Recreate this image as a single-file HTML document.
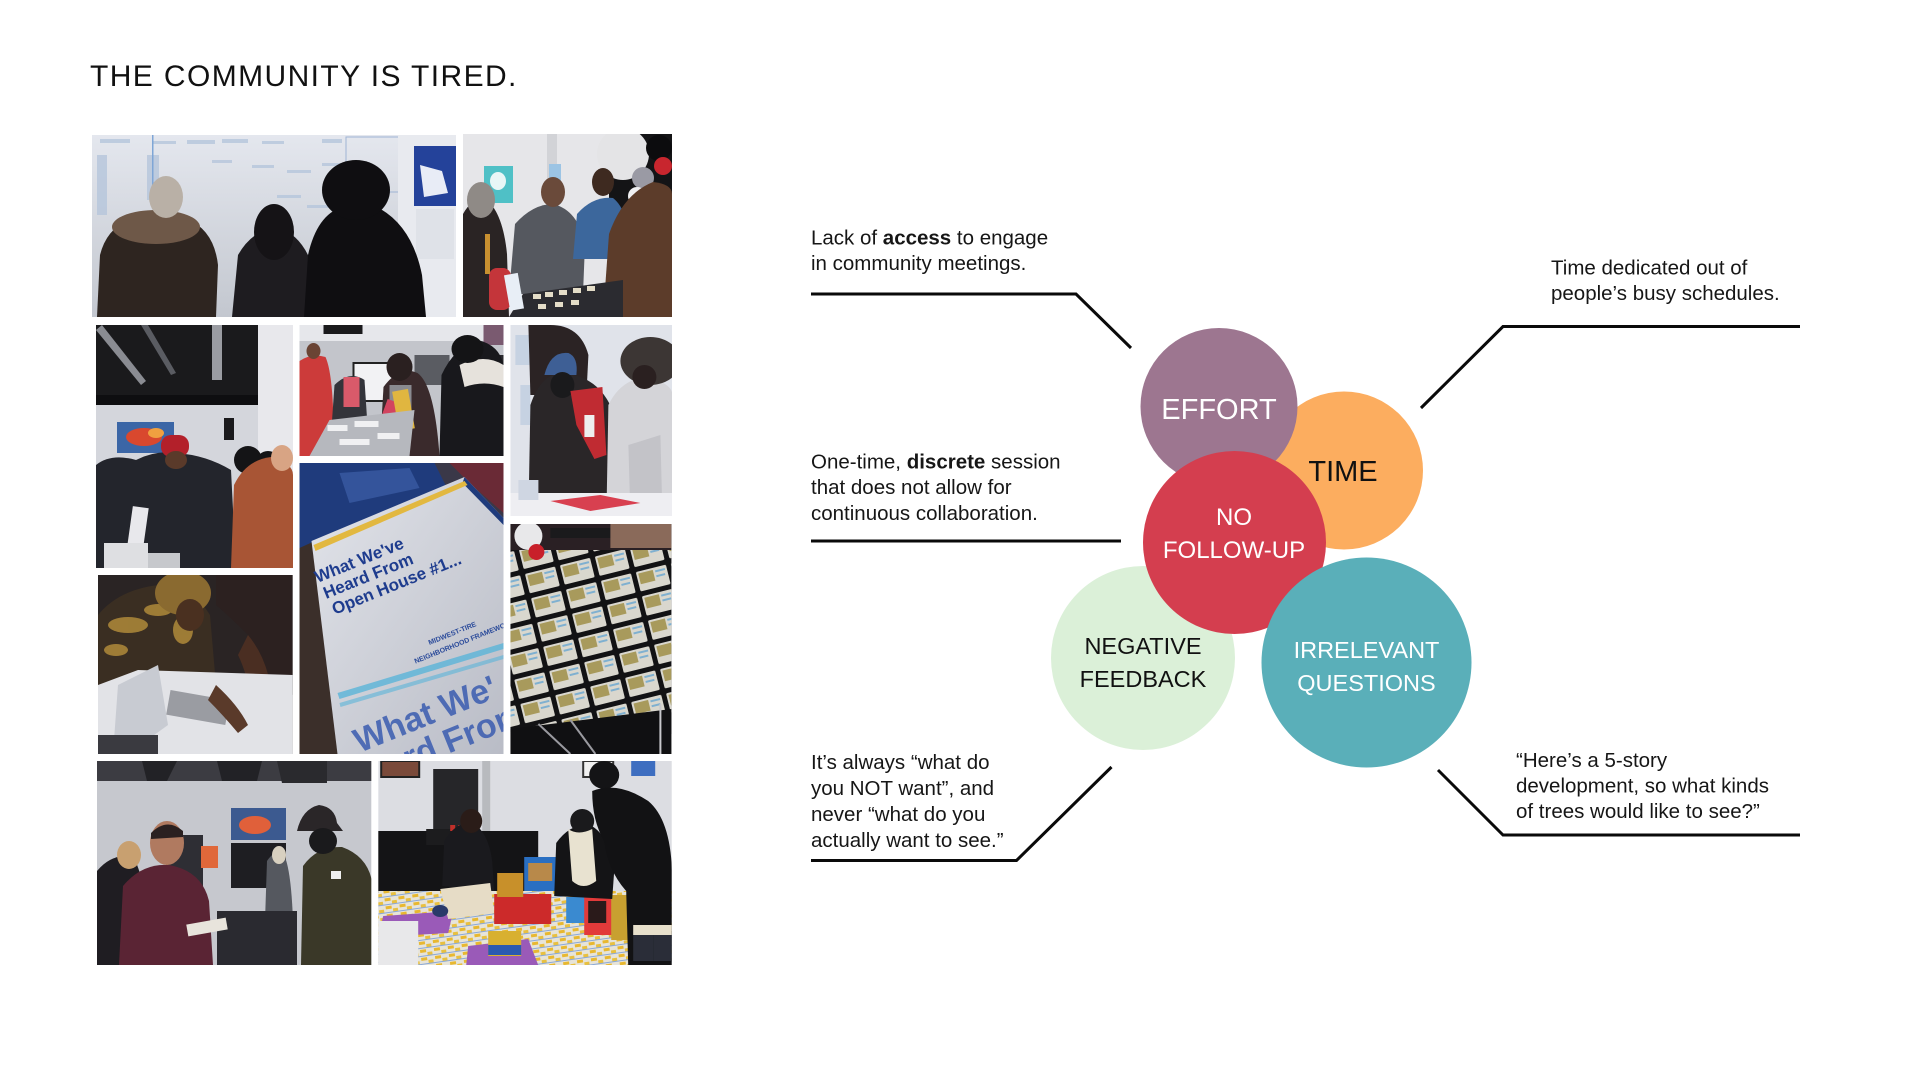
<!DOCTYPE html>
<html>
<head>
<meta charset="utf-8">
<style>
  html,body{margin:0;padding:0;background:#fff;}
  svg{display:block;}
  text{font-family:"Liberation Sans", sans-serif;}
</style>
</head>
<body>
<svg width="1920" height="1080" viewBox="0 0 1920 1080" xmlns="http://www.w3.org/2000/svg">
  <defs>
    <linearGradient id="wall1" x1="0" y1="0" x2="0" y2="1">
      <stop offset="0" stop-color="#e4e7ee"/><stop offset="1" stop-color="#c3c7cf"/>
    </linearGradient>
    <linearGradient id="book" x1="0" y1="0" x2="1" y2="1">
      <stop offset="0" stop-color="#e2e4ea"/><stop offset="1" stop-color="#b9bcc6"/>
    </linearGradient>
    <pattern id="cards" width="36" height="25" patternUnits="userSpaceOnUse" patternTransform="rotate(-14)">
      <rect x="0" y="0" width="36" height="25" fill="#121214"/>
      <rect x="2" y="2" width="31" height="20" rx="1.5" fill="#d9d7ce"/>
      <rect x="4" y="4" width="15" height="11" fill="#a89a5c"/>
      <rect x="21" y="5" width="10" height="2" fill="#7fb0d0"/>
      <rect x="21" y="10" width="9" height="2" fill="#7fb0d0"/>
    </pattern>
    <pattern id="floormap" width="14" height="8" patternUnits="userSpaceOnUse" patternTransform="rotate(-8)">
      <rect width="14" height="8" fill="#e7e4d8"/>
      <rect x="1" y="1" width="6" height="3" fill="#e8b830"/>
      <rect x="8" y="4" width="5" height="3" fill="#e8c040"/>
      <rect x="0" y="7" width="14" height="1" fill="#8aa8d8"/>
    </pattern>
  </defs>

  <!-- Title -->
  <text x="90" y="86" font-size="30" letter-spacing="1.4" fill="#111">THE COMMUNITY IS TIRED.</text>

  <!-- ============ PHOTOS ============ -->
  <!-- P1 -->
  <svg x="92" y="135" width="364" height="182">
    <rect width="364" height="182" fill="url(#wall1)"/>
    <g fill="#b6c6dc" opacity="0.8">
      <rect x="8" y="4" width="30" height="4"/><rect x="60" y="6" width="24" height="3"/><rect x="95" y="5" width="28" height="4"/>
      <rect x="130" y="4" width="26" height="4"/><rect x="170" y="6" width="22" height="3"/><rect x="230" y="4" width="20" height="4"/>
      <rect x="120" y="25" width="20" height="3"/><rect x="160" y="30" width="22" height="3"/><rect x="195" y="35" width="24" height="3"/>
      <rect x="230" y="28" width="20" height="3"/><rect x="185" y="60" width="24" height="3"/><rect x="215" y="70" width="22" height="3"/>
      <rect x="5" y="20" width="10" height="60"/><rect x="55" y="20" width="12" height="45"/>
    </g>
    <rect x="60" y="0" width="1.5" height="60" fill="#7fa6d6"/>
    <rect x="254" y="2" width="60" height="55" fill="none" stroke="#9fb4d4" stroke-width="1"/>
    <rect x="306" y="0" width="58" height="182" fill="#e8eaef"/>
    <rect x="322" y="11" width="42" height="60" fill="#24429a"/>
    <path d="M328 30 L350 36 L356 58 L332 62 Z" fill="#e8ecf6"/>
    <rect x="324" y="74" width="38" height="50" fill="#dfe2e8"/>
    <!-- left person -->
    <path d="M5 182 L8 120 Q15 92 40 84 L95 84 Q122 95 126 130 L124 182 Z" fill="#2e2520"/>
    <ellipse cx="64" cy="92" rx="44" ry="17" fill="#6e5848"/>
    <ellipse cx="74" cy="62" rx="17" ry="21" fill="#b9b0a6"/>
    <!-- middle person -->
    <path d="M140 182 L146 120 Q160 95 185 92 Q210 100 220 130 L220 182 Z" fill="#1e1c20"/>
    <ellipse cx="182" cy="97" rx="20" ry="28" fill="#151316"/>
    <!-- right silhouette -->
    <path d="M212 182 L216 120 Q225 80 250 72 L285 72 Q320 90 330 140 L334 182 Z" fill="#0f0e11"/>
    <ellipse cx="264" cy="55" rx="34" ry="30" fill="#0f0e11"/>
  </svg>

  <!-- P2 -->
  <svg x="463" y="134" width="209" height="183">
    <rect width="209" height="183" fill="#e6e6e9"/>
    <rect x="84" y="0" width="10" height="183" fill="#d2d3d7"/>
    <rect x="146" y="0" width="63" height="82" fill="#141416"/>
    <circle cx="160" cy="20" r="26" fill="#e4e4e6"/>
    <circle cx="196" cy="14" r="13" fill="#0c0c0e"/>
    <circle cx="200" cy="32" r="9" fill="#c8262e"/>
    <circle cx="180" cy="44" r="11" fill="#9a9aa4"/>
    <circle cx="174" cy="62" r="9" fill="#f0f0f2"/>
    <circle cx="190" cy="58" r="8" fill="#b01e28"/>
    <rect x="21" y="32" width="29" height="37" fill="#4fc0c6"/>
    <ellipse cx="35" cy="47" rx="8" ry="9" fill="#e8f6f6"/>
    <rect x="86" y="30" width="12" height="40" fill="#9cc4e4"/>
    <!-- left woman -->
    <path d="M0 183 L0 80 Q10 62 24 66 Q40 80 44 120 L46 183 Z" fill="#2a2424"/>
    <ellipse cx="18" cy="66" rx="14" ry="18" fill="#8f8a86"/>
    <rect x="26" y="134" width="22" height="42" rx="8" fill="#c4353a"/>
    <rect x="22" y="100" width="5" height="40" fill="#c89030"/>
    <!-- grey man -->
    <path d="M46 160 L52 90 Q70 70 90 70 Q115 76 122 110 L120 160 Z" fill="#55585f"/>
    <ellipse cx="90" cy="58" rx="12" ry="15" fill="#6a4a3a"/>
    <!-- plaid man -->
    <path d="M110 125 L114 80 Q130 62 150 64 Q168 78 166 125 Z" fill="#3c679c"/>
    <ellipse cx="140" cy="48" rx="11" ry="14" fill="#3e2a20"/>
    <!-- fur person -->
    <path d="M140 183 L146 100 Q160 60 190 48 Q209 50 209 60 L209 183 Z" fill="#5c3c2a"/>
    <!-- table -->
    <path d="M46 183 L60 160 L160 146 L160 183 Z" fill="#2b2b30"/>
    <g fill="#e4ddc8"><rect x="70" y="160" width="8" height="5"/><rect x="82" y="158" width="8" height="5"/><rect x="96" y="156" width="8" height="5"/><rect x="110" y="154" width="8" height="5"/><rect x="124" y="152" width="8" height="5"/><rect x="75" y="170" width="8" height="5"/><rect x="92" y="168" width="8" height="5"/><rect x="108" y="166" width="8" height="5"/></g>
    <rect x="44" y="140" width="14" height="36" fill="#e8eef6" transform="rotate(-10 50 158)"/>
  </svg>

  <!-- P3 -->
  <svg x="96" y="325" width="197" height="243">
    <rect width="197" height="243" fill="#d4d6dc"/>
    <rect x="0" y="0" width="162" height="80" fill="#1a1a1c"/>
    <rect x="162" y="0" width="35" height="243" fill="#e8e8ec"/>
    <path d="M0 5 L45 60 L50 56 L6 0 Z" fill="#8a8c92"/>
    <rect x="116" y="0" width="10" height="55" fill="#9a9ca2"/>
    <path d="M45 0 L75 50 L80 48 L52 0 Z" fill="#5a5c62"/>
    <rect x="0" y="70" width="162" height="10" fill="#0e0e10"/>
    <rect x="21" y="97" width="57" height="31" fill="#3b66a6"/>
    <ellipse cx="48" cy="112" rx="18" ry="9" fill="#d9482e"/>
    <ellipse cx="60" cy="108" rx="8" ry="5" fill="#f0a040"/>
    <rect x="128" y="93" width="10" height="22" fill="#1a1a1c"/>
    <circle cx="152" cy="135" r="14" fill="#141416"/>
    <circle cx="172" cy="138" r="12" fill="#141416"/>
    <path d="M0 243 L0 140 Q15 128 40 135 Q60 125 80 128 Q110 130 135 145 L140 243 Z" fill="#23252c"/>
    <rect x="65" y="110" width="28" height="22" rx="10" fill="#b3202a"/>
    <ellipse cx="80" cy="135" rx="11" ry="9" fill="#5a3a2a"/>
    <rect x="34" y="182" width="16" height="40" fill="#e8e8ec" transform="rotate(8 42 202)"/>
    <rect x="8" y="218" width="44" height="25" fill="#dedfe2"/>
    <rect x="52" y="228" width="32" height="15" fill="#c6c8cc"/>
    <path d="M135 243 L138 160 Q150 135 175 132 Q197 138 197 150 L197 243 Z" fill="#a85535"/>
    <ellipse cx="186" cy="133" rx="11" ry="13" fill="#d8a484"/>
  </svg>

  <!-- P4 -->
  <svg x="299.5" y="325" width="204" height="131">
    <rect width="204" height="131" fill="#c3c5cb"/>
    <rect x="0" y="0" width="204" height="16" fill="#e6e7eb"/>
    <rect x="24" y="0" width="39" height="9" fill="#1a1a1c"/>
    <rect x="184" y="0" width="20" height="20" fill="#7a5a70"/>
    <rect x="54" y="38" width="50" height="38" fill="#f2f2f4" stroke="#222" stroke-width="2"/>
    <rect x="115" y="30" width="35" height="30" fill="#5a5c62"/>
    <rect x="180" y="30" width="24" height="35" fill="#2a2a2e"/>
    <path d="M0 131 L0 36 Q12 28 26 32 Q34 50 34 110 L30 131 Z" fill="#cc3b3a"/>
    <ellipse cx="14" cy="26" rx="7" ry="8" fill="#6a4434"/>
    <path d="M30 131 L35 60 Q50 45 65 55 L70 131 Z" fill="#33343a"/>
    <rect x="44" y="52" width="16" height="30" fill="#d95a6a"/>
    <path d="M80 131 L84 62 Q100 40 118 48 Q135 60 140 131 Z" fill="#3a2a2c"/>
    <ellipse cx="100" cy="42" rx="13" ry="14" fill="#2a2020"/>
    <rect x="90" y="60" width="22" height="40" fill="#8a8a90"/>
    <rect x="82" y="75" width="12" height="35" fill="#d2445f" transform="rotate(20 88 92)"/>
    <rect x="96" y="65" width="16" height="40" fill="#e0b640" transform="rotate(-10 104 85)"/>
    <path d="M140 131 L142 50 Q155 22 178 15 Q200 20 204 40 L204 131 Z" fill="#18181c"/>
    <path d="M160 40 Q185 28 204 40 L204 62 Q185 55 165 62 Z" fill="#e6e2dc"/>
    <ellipse cx="168" cy="24" rx="16" ry="14" fill="#141416"/>
    <path d="M10 131 L30 95 L115 85 L110 131 Z" fill="#b6b8be"/>
    <g fill="#f0f0f2"><rect x="28" y="100" width="20" height="6"/><rect x="55" y="96" width="24" height="6"/><rect x="40" y="114" width="30" height="6"/><rect x="78" y="108" width="22" height="6"/></g>
  </svg>

  <!-- P5 -->
  <svg x="510.4" y="325" width="161.6" height="191">
    <rect width="162" height="191" fill="#e0e3ea"/>
    <g fill="#c6d2e2"><rect x="5" y="10" width="14" height="30"/><rect x="10" y="60" width="10" height="40"/><rect x="40" y="5" width="20" height="10"/></g>
    <path d="M18 0 L40 0 Q70 0 78 30 L76 70 L20 70 Z" fill="#2b2324"/>
    <path d="M18 191 L20 80 Q30 50 50 48 Q90 50 104 90 L104 191 Z" fill="#2a2628"/>
    <path d="M34 50 Q40 26 58 28 Q68 32 66 50 Z" fill="#3e5f95"/>
    <ellipse cx="52" cy="60" rx="12" ry="13" fill="#1a1a1c"/>
    <path d="M60 66 L92 62 L96 130 L84 134 L66 100 Z" fill="#c02b32"/>
    <rect x="74" y="90" width="10" height="22" fill="#eeeeee"/>
    <path d="M96 191 L98 80 Q110 55 135 52 Q162 58 162 70 L162 191 Z" fill="#d4d4d8"/>
    <ellipse cx="140" cy="36" rx="30" ry="24" fill="#3c3634"/>
    <ellipse cx="134" cy="52" rx="12" ry="12" fill="#2a2020"/>
    <path d="M120 190 L118 120 L150 110 L152 190 Z" fill="#b8b8be" opacity="0.6"/>
    <rect x="0" y="168" width="162" height="23" fill="#eeeef2"/>
    <path d="M40 176 L90 170 L130 178 L80 186 Z" fill="#d84050"/>
    <rect x="8" y="155" width="20" height="20" fill="#cfd6e2"/>
  </svg>

  <!-- P6 booklet -->
  <svg x="299.5" y="463" width="204" height="291">
    <rect width="204" height="291" fill="#3a3848"/>
    <polygon points="0,0 135,0 150,30 20,85 0,85" fill="#1f3b7c"/>
    <polygon points="40,10 110,5 120,25 50,40" fill="#3d5fa8" opacity="0.7"/>
    <polygon points="150,0 204,0 204,50 170,20" fill="#6a2a36"/>
    <polygon points="0,85 22,75 40,291 0,291" fill="#3b2f2a"/>
    <polygon points="12,78 165,14 204,55 204,291 38,291" fill="url(#book)"/>
    <polygon points="165,14 204,55 204,62 163,20" fill="#1f3b7c"/>
    <polygon points="14,82 165,18 168,22 16,88" fill="#e2b840"/>
    <g transform="translate(18 120) rotate(-22)" fill="#1e3c8e" font-weight="bold" font-size="17">
      <text x="0" y="0">What We've</text>
      <text x="2" y="18">Heard From</text>
      <text x="4" y="36">Open House #1...</text>
    </g>
    <g transform="translate(130 182) rotate(-22)" fill="#2a4a9a" font-size="7" font-weight="bold">
      <text x="0" y="0">MIDWEST-TIRE</text>
      <text x="-20" y="12">NEIGHBORHOOD FRAMEWORK</text>
    </g>
    <polygon points="38,230 204,180 204,186 40,236" fill="#5ab4d8" opacity="0.8"/>
    <polygon points="40,240 204,192 204,196 41,244" fill="#5ab4d8" opacity="0.6"/>
    <g transform="translate(60 290) rotate(-22)" fill="#3a5cb0" font-weight="bold" font-size="34" opacity="0.85">
      <text x="0" y="0">What We'</text>
      <text x="20" y="34">ard From</text>
    </g>
  </svg>

  <!-- P7 -->
  <svg x="98" y="575" width="194.6" height="179">
    <rect width="195" height="179" fill="#2a2424"/>
    <path d="M0 110 L0 40 Q20 15 60 10 Q95 12 112 40 L118 110 Z" fill="#3a2e22"/>
    <g fill="#b08a3a" opacity="0.85"><ellipse cx="30" cy="50" rx="20" ry="8"/><ellipse cx="60" cy="35" rx="14" ry="6"/><ellipse cx="18" cy="75" rx="12" ry="6"/><ellipse cx="85" cy="55" rx="10" ry="14"/></g>
    <ellipse cx="85" cy="18" rx="28" ry="22" fill="#8a6a30"/>
    <ellipse cx="92" cy="40" rx="14" ry="16" fill="#4a3020"/>
    <path d="M118 0 L195 0 L195 120 L170 110 L150 60 Q130 40 118 30 Z" fill="#2c2120"/>
    <path d="M150 60 Q175 90 175 140 L160 150 Q150 100 140 80 Z" fill="#4a2e22"/>
    <polygon points="0,110 40,95 195,100 195,179 0,179" fill="#e2e3e7"/>
    <polygon points="20,110 60,90 70,150 30,179 15,179" fill="#c8cbd2"/>
    <rect x="70" y="120" width="60" height="25" fill="#9a9ca2" transform="rotate(10 100 132)"/>
    <path d="M118 110 Q140 130 150 150 L140 158 Q125 140 110 125 Z" fill="#5a3a2a"/>
    <rect x="0" y="160" width="60" height="19" fill="#3a3a40"/>
  </svg>

  <!-- P8 cards -->
  <svg x="510.4" y="524" width="161" height="230">
    <rect width="161" height="230" fill="#141416"/>
    <rect x="0" y="20" width="161" height="190" fill="url(#cards)"/>
    <rect x="0" y="0" width="161" height="26" fill="#2a2024"/>
    <circle cx="18" cy="12" r="14" fill="#e8e8ea"/>
    <circle cx="26" cy="28" r="8" fill="#c8202a"/>
    <rect x="40" y="4" width="60" height="10" fill="#1a1a1c"/>
    <rect x="100" y="0" width="61" height="24" fill="#8a6a5a"/>
    <polygon points="0,205 161,185 161,230 0,230" fill="#101012"/>
    <line x1="28" y1="200" x2="60" y2="230" stroke="#9a9aa0" stroke-width="2"/>
    <line x1="60" y1="196" x2="85" y2="230" stroke="#9a9aa0" stroke-width="2"/>
    <line x1="150" y1="180" x2="150" y2="230" stroke="#c8c8cc" stroke-width="2"/>
  </svg>

  <!-- P9 -->
  <svg x="97" y="761" width="274.3" height="204">
    <rect width="275" height="204" fill="#c6c8ce"/>
    <rect x="0" y="0" width="275" height="20" fill="#3c3c42"/>
    <polygon points="45,0 80,0 70,20 50,20" fill="#222226"/>
    <polygon points="120,0 165,0 160,20 125,20" fill="#222226"/>
    <polygon points="180,0 230,0 230,22 185,22" fill="#2a2a2e"/>
    <rect x="134" y="47" width="55" height="32" fill="#3c5a90"/>
    <ellipse cx="158" cy="64" rx="16" ry="9" fill="#e0603a"/>
    <rect x="134" y="82" width="55" height="45" fill="#1e1e22"/>
    <rect x="69" y="74" width="37" height="91" fill="#2e2e34"/>
    <rect x="104" y="85" width="17" height="22" fill="#e0683a"/>
    <path d="M168 160 L170 100 Q178 88 186 92 Q194 105 196 160 Z" fill="#55585f"/>
    <ellipse cx="182" cy="94" rx="7" ry="9" fill="#d8d0c0"/>
    <rect x="120" y="150" width="80" height="54" fill="#2a2a30"/>
    <path d="M0 204 L0 110 Q15 92 35 96 Q50 110 50 204 Z" fill="#1f1d22"/>
    <ellipse cx="32" cy="94" rx="12" ry="14" fill="#c8a070"/>
    <path d="M22 204 L26 125 Q45 102 72 104 Q105 110 112 140 L116 204 Z" fill="#5a2434"/>
    <ellipse cx="70" cy="82" rx="17" ry="22" fill="#b07a60"/>
    <path d="M54 72 Q70 56 86 70 L86 76 L54 78 Z" fill="#2a2020"/>
    <rect x="90" y="160" width="40" height="12" fill="#e8e4dc" transform="rotate(-10 110 166)"/>
    <path d="M204 204 L206 105 Q220 85 245 86 Q270 95 275 120 L275 204 Z" fill="#3a3828"/>
    <path d="M200 70 Q205 48 222 44 Q238 46 240 62 L246 70 Z" fill="#2a2628"/>
    <ellipse cx="226" cy="80" rx="14" ry="13" fill="#1a1a1c"/>
    <rect x="234" y="110" width="10" height="8" fill="#f0f0f0"/>
  </svg>

  <!-- P10 -->
  <svg x="378.2" y="761" width="293.5" height="204">
    <rect width="294" height="204" fill="#dcdde2"/>
    <rect x="3" y="0" width="38" height="16" fill="#7a4a3a" stroke="#222" stroke-width="2"/>
    <rect x="55" y="8" width="45" height="60" fill="#262629"/>
    <rect x="104" y="0" width="8" height="70" fill="#b8babe"/>
    <rect x="205" y="0" width="30" height="16" fill="#f0f0f0" stroke="#333" stroke-width="2"/>
    <rect x="253" y="0" width="24" height="15" fill="#3e6ec0"/>
    <rect x="0" y="70" width="160" height="62" fill="#141416"/>
    <rect x="48" y="68" width="50" height="16" fill="#1c1c1e"/>
    <g fill="#c0302a"><rect x="72" y="64" width="5" height="6"/><rect x="80" y="64" width="5" height="6"/></g>
    <rect x="0" y="130" width="294" height="74" fill="url(#floormap)"/>
    <polygon points="5,155 75,150 70,172 0,176" fill="#9a5ab8"/>
    <polygon points="90,185 150,178 160,204 88,204" fill="#9a5ab8"/>
    <rect x="0" y="160" width="40" height="44" fill="#e8e8ea"/>
    <!-- girl -->
    <path d="M64 125 L66 80 Q78 60 94 62 Q110 70 114 100 L116 130 Z" fill="#1a1a1e"/>
    <ellipse cx="93" cy="60" rx="11" ry="12" fill="#2a1c18"/>
    <path d="M62 128 L112 122 L116 152 L70 158 Z" fill="#e6dcc6"/>
    <ellipse cx="62" cy="150" rx="8" ry="6" fill="#2a3a6a"/>
    <!-- boxes -->
    <rect x="116" y="133" width="57" height="30" fill="#cc2a2a"/>
    <rect x="146" y="96" width="38" height="34" fill="#2a6fc2"/>
    <rect x="150" y="102" width="24" height="18" fill="#b8894a"/>
    <rect x="119" y="112" width="26" height="24" fill="#c8902a"/>
    <rect x="188" y="136" width="20" height="26" fill="#3a8ad0"/>
    <rect x="206" y="134" width="28" height="40" fill="#e23a3a"/>
    <rect x="210" y="140" width="18" height="22" fill="#2a1a1a"/>
    <rect x="206" y="130" width="28" height="6" fill="#f0c020"/>
    <rect x="233" y="134" width="24" height="45" fill="#c8a030"/>
    <rect x="110" y="170" width="33" height="25" fill="#d8b030"/>
    <rect x="110" y="184" width="33" height="10" fill="#2a5ab0"/>
    <!-- woman center -->
    <path d="M176 135 L178 82 Q192 62 212 64 Q232 75 236 110 L234 138 Z" fill="#141416"/>
    <ellipse cx="204" cy="60" rx="12" ry="12" fill="#1a1a1c"/>
    <path d="M190 68 Q200 75 214 68 L218 120 Q205 130 194 120 Z" fill="#e8e2d0"/>
    <!-- right person -->
    <ellipse cx="226" cy="14" rx="15" ry="14" fill="#141416"/>
    <path d="M214 30 Q240 20 270 40 Q294 60 294 120 L294 204 L250 204 L248 130 Q230 110 226 80 Q214 60 214 30 Z" fill="#121214"/>
    <rect x="255" y="170" width="20" height="30" fill="#2a2d38"/>
    <rect x="275" y="170" width="19" height="30" fill="#2a2d38"/>
    <rect x="255" y="164" width="39" height="10" fill="#e8e0cc"/>
  </svg>

  <!-- ============ DIAGRAM ============ -->
  <g fill="none" stroke="#0a0a0a" stroke-width="3" stroke-linejoin="miter">
    <path d="M811 294 H1076 L1131 348"/>
    <path d="M1421 408 L1503 326.5 H1800"/>
    <path d="M811 541 H1121"/>
    <path d="M811 860.5 H1016.5 L1111.5 767"/>
    <path d="M1438 770 L1503 835 H1800"/>
  </g>

  <circle cx="1344" cy="470.5" r="79" fill="#fcad5f"/>
  <circle cx="1219" cy="406.5" r="78.5" fill="#9d7690"/>
  <circle cx="1143" cy="658" r="92" fill="#dbf0d8"/>
  <circle cx="1234.5" cy="542.5" r="91.5" fill="#d43e4f"/>
  <circle cx="1366.5" cy="662.5" r="105" fill="#5aafb9"/>

  <g text-anchor="middle">
    <text x="1219" y="419" font-size="29" fill="#ffffff">EFFORT</text>
    <text x="1343" y="481" font-size="29" fill="#111">TIME</text>
    <text x="1234" y="525" font-size="24" fill="#ffffff">NO</text>
    <text x="1234" y="558" font-size="24" fill="#ffffff">FOLLOW-UP</text>
    <text x="1143" y="654" font-size="23.5" fill="#111">NEGATIVE</text>
    <text x="1143" y="687" font-size="23.5" fill="#111">FEEDBACK</text>
    <text x="1366.5" y="658" font-size="23.5" fill="#ffffff">IRRELEVANT</text>
    <text x="1366.5" y="691" font-size="23.5" fill="#ffffff">QUESTIONS</text>
  </g>

  <g font-size="20.5" fill="#161616">
    <text x="811" y="244.5">Lack of <tspan font-weight="bold">access</tspan> to engage</text>
    <text x="811" y="270">in community meetings.</text>

    <text x="1551" y="274.5">Time dedicated out of</text>
    <text x="1551" y="300">people’s busy schedules.</text>

    <text x="811" y="468.5">One-time, <tspan font-weight="bold">discrete</tspan> session</text>
    <text x="811" y="494">that does not allow for</text>
    <text x="811" y="520">continuous collaboration.</text>

    <text x="811" y="769">It’s always “what do</text>
    <text x="811" y="795">you NOT want”, and</text>
    <text x="811" y="821">never “what do you</text>
    <text x="811" y="847">actually want to see.”</text>

    <text x="1516" y="767">“Here’s a 5-story</text>
    <text x="1516" y="792.5">development, so what kinds</text>
    <text x="1516" y="818">of trees would like to see?”</text>
  </g>
</svg>
</body>
</html>
